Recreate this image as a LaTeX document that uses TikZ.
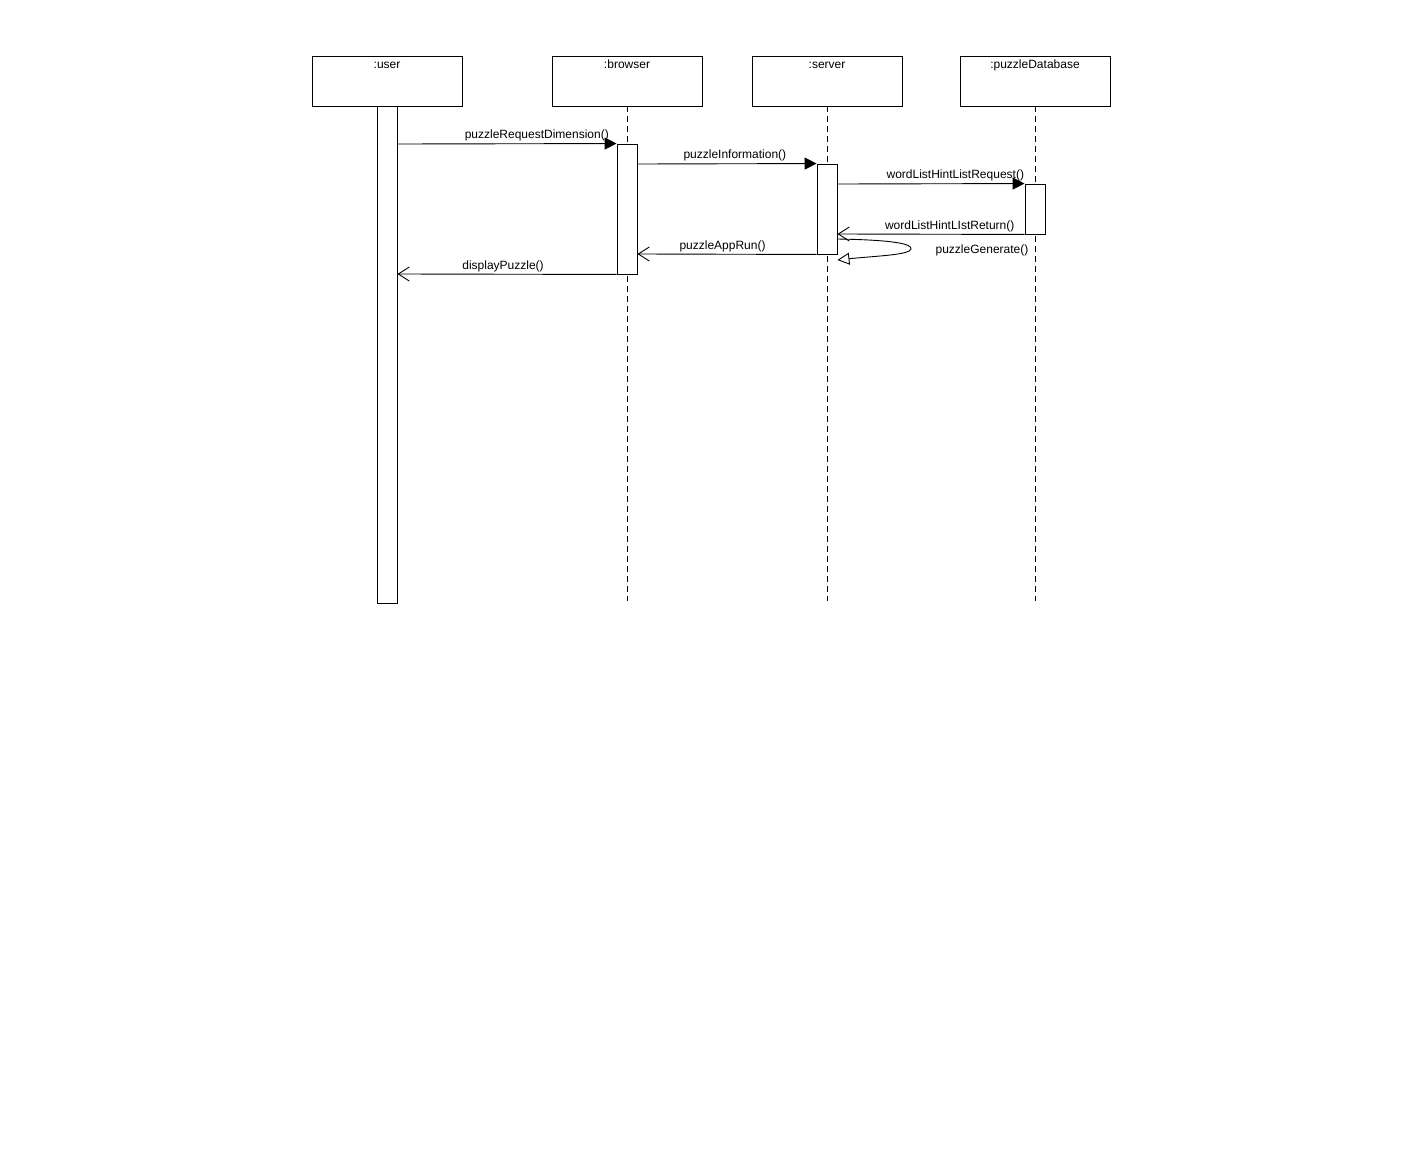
\documentclass[tikz,border=0pt]{standalone}
\usepackage{fontspec}
\setmainfont{Liberation Sans}
\usetikzlibrary{arrows.meta}
\begin{document}
\begin{tikzpicture}[x=1pt,y=-1pt,line width=0.9pt,
  font=\fontsize{12}{14}\selectfont,
  head/.style={draw,fill=white,minimum width=150pt,minimum height=50pt,inner sep=0pt},
  hdtext/.style={anchor=north,inner sep=2pt,yshift=-2pt,text height=8.8pt,text depth=2.6pt},
  lifeline/.style={draw,dash pattern=on 6pt off 4pt},
  actbar/.style={draw,fill=white,minimum width=20pt,inner sep=0pt},
  sync/.style={-{Triangle[length=12pt,width=12pt]}},
  reply/.style={-{Straight Barb[length=11pt,width=14pt]}},
  selfmsg/.style={-{Triangle[open,length=12pt,width=12pt,fill=white]}},
  msg/.style={above,inner sep=2pt,text height=8.8pt,text depth=2.6pt}]
\useasboundingbox[fill=white] (0,0) rectangle (1422,1172);
% heads
\node[head,label={[hdtext]north::user}] (user) at (387,81) {};
\node[head,label={[hdtext]north::browser}] (browser) at (627,81) {};
\node[head,label={[hdtext]north::server}] (server) at (827,81) {};
\node[head,label={[hdtext]north::puzzleDatabase}] (db) at (1035,81) {};
% lifeline ends
\coordinate (bend) at (627,601);
\coordinate (send) at (827,601);
\coordinate (dend) at (1035,601);
\path[lifeline] (browser.south) -- (bend);
\path[lifeline] (server.south) -- (send);
\path[lifeline] (db.south) -- (dend);
% activation bars
\node[actbar,minimum height=497pt] (ubar) at (387,354.5) {};
\node[actbar,minimum height=130pt] (bbar) at (627,209) {};
\node[actbar,minimum height=90pt] (sbar) at (827,209) {};
\node[actbar,minimum height=50pt] (dbar) at (1035,209) {};
% messages
\draw[sync] (ubar.east |- 0,144) -- node[msg,pos=0.636] {puzzleRequestDimension()} (bbar.north west);
\draw[sync] (bbar.east |- 0,164) -- node[msg,pos=0.544] {puzzleInformation()} (sbar.north west);
\draw[sync] (sbar.east |- 0,184) -- node[msg,pos=0.63] {wordListHintListRequest()} (dbar.north west);
\draw[reply] (dbar.south west) -- node[msg,pos=0.40] {wordListHintLIstReturn()} (sbar.east |- 0,234);
\draw[reply] (sbar.south west) -- node[msg,pos=0.525] {puzzleAppRun()} (bbar.east |- 0,254);
\draw[reply] (bbar.south west) -- node[msg,pos=0.518] {displayPuzzle()} (ubar.east |- 0,274);
% self message
\draw[selfmsg] (sbar.east |- 0,239) .. controls (895,240) and (912,244) .. (911,249)
  .. controls (910,255) and (875,256) .. (sbar.east |- 0,260);
\node (pg) at (982,250.5) {puzzleGenerate()};
\end{tikzpicture}
\end{document}
